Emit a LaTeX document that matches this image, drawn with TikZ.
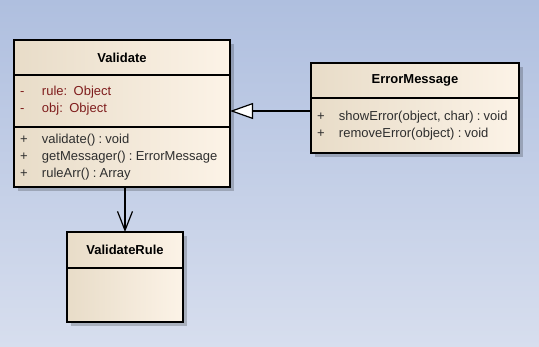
\documentclass[tikz,border=0pt]{standalone}
\usepackage{fontspec}
\setmainfont{Liberation Sans}
\usepackage{tikz}
\usetikzlibrary{arrows.meta, positioning, shadows}
\usepackage{xcolor}

\definecolor{bgtop}{HTML}{AFBFDF}
\definecolor{bgbottom}{HTML}{D7DEEE}
\definecolor{clsleft}{HTML}{E8DCC8}
\definecolor{clsmid}{HTML}{FAF0E2}
\definecolor{clsright}{HTML}{FCF3E7}
\definecolor{attrred}{HTML}{7F1D1D}
\definecolor{opgray}{HTML}{2E2E2E}

\newcommand{\umlvis}[1]{\makebox[22pt][l]{#1}}
\newcommand{\umltight}{\frenchspacing\spaceskip=3.2pt\relax}

\begin{document}
\begin{tikzpicture}[x=1pt, y=-1pt,
    classbox/.style = {rectangle, draw=black, line width=1.2pt, left color=clsleft, middle color=clsmid, right color=clsright, drop shadow={shadow xshift=4pt, shadow yshift=-4pt, fill=black, opacity=0.2}, inner sep=0pt, outer sep=0pt},
    classhead/.style = {classbox, align=center, font=\bfseries\fontsize{13}{15}\selectfont},
    compart/.style = {classbox, align=left, font=\fontsize{13}{17}\selectfont, execute at begin node=\umltight, inner xsep=6pt, inner ysep=0pt},
    attr/.style = {text=attrred},
    oper/.style = {text=opgray},
    generalize/.style = {draw=black, line width=1.2pt, -{Triangle[length=23pt, width=16pt, fill=white]}},
    assoc/.style = {draw=black, line width=1.2pt, -{Straight Barb[length=19pt, width=15pt]}}
]

% Background
\useasboundingbox (0,0) rectangle (539,347);
\shade[top color=bgtop, bottom color=bgbottom] (0,0) rectangle (539,347);

% Class Validate
\node (v_head) [classhead, anchor=north, minimum width=216pt, minimum height=35pt, at={(122,40)}] {Validate};
\node (v_attr) [compart, attr, below=0pt of v_head, minimum width=216pt, text width=204pt, minimum height=52pt] {\umlvis{-}rule:~ Object\\\umlvis{-}obj:~ Object\\[3pt]};
\node (v_ops) [compart, oper, below=0pt of v_attr, minimum width=216pt, text width=204pt, minimum height=60pt] {\umlvis{+}validate() : void\\\umlvis{+}getMessager() : ErrorMessage\\\umlvis{+}ruleArr() : Array};

% Class ErrorMessage
\node (em_head) [classhead, anchor=north, minimum width=208pt, minimum height=35pt, at={(415,63)}] {ErrorMessage};
\node (em_ops) [compart, oper, below=0pt of em_head, minimum width=208pt, text width=196pt, minimum height=55pt] {\umlvis{+}showError(object, char) : void\\\umlvis{+}removeError(object) : void};

% Class ValidateRule
\node (vr_head) [classhead, anchor=north, minimum width=116pt, minimum height=36pt, at={(125,232)}] {ValidateRule};
\node (vr_body) [compart, below=0pt of vr_head, minimum width=116pt, minimum height=54pt] {};

% Connections
\draw [generalize] ([yshift=14.5pt]em_ops.west) coordinate (gen_src) -- (gen_src -| v_attr.east);
\draw [assoc] (v_ops.south -| vr_head.north) -- (vr_head.north);

\end{tikzpicture}
\end{document}
